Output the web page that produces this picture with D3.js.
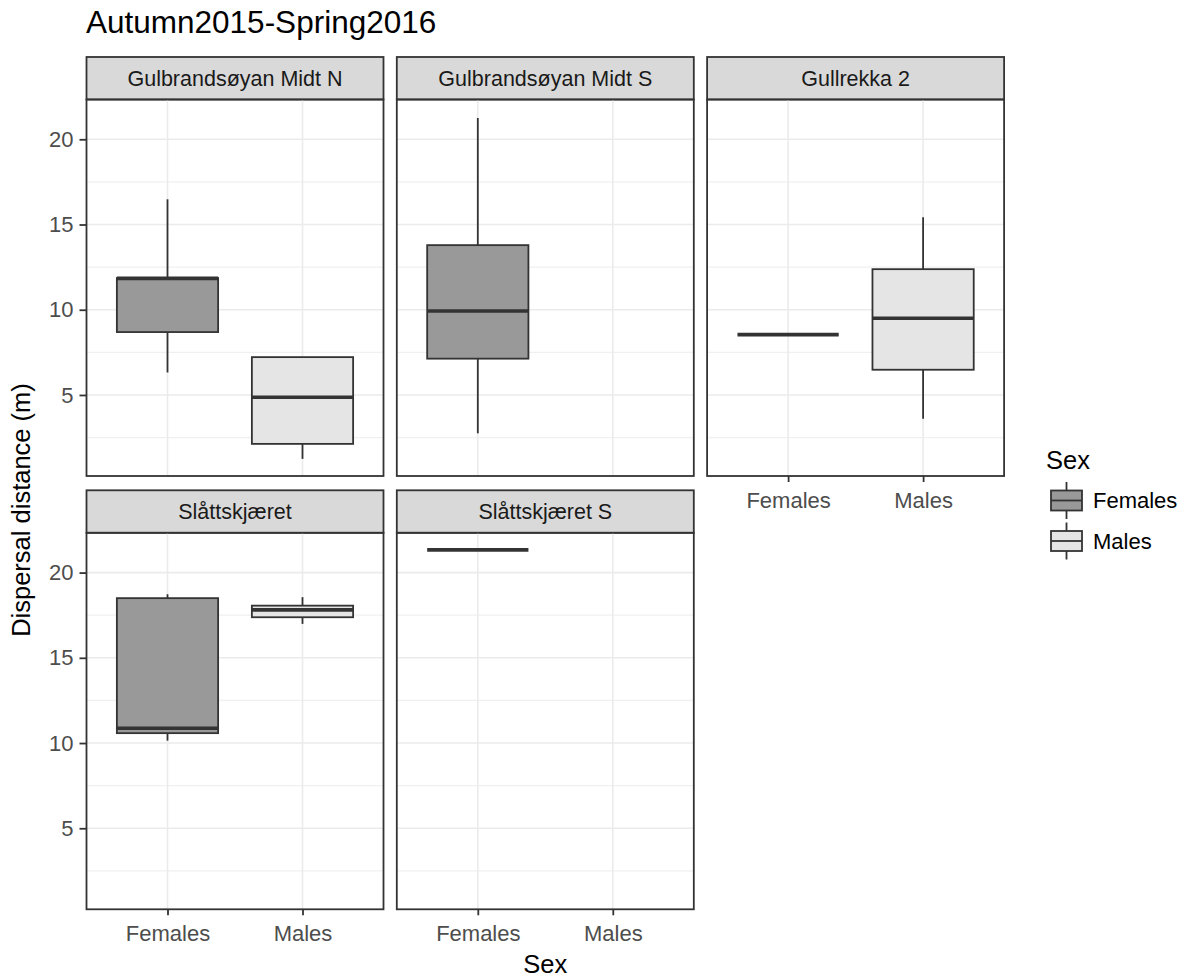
<!DOCTYPE html>
<html>
<head>
<meta charset="utf-8">
<script src="https://cdn.jsdelivr.net/npm/d3@7"></script>
<style>
body { margin: 0; background: #fff; }
svg text { font-family: "Liberation Sans", Arial, sans-serif; }
</style>
</head>
<body>
<div id="chart"></div>
<script>
// Data
var sites           =   [ "Gulbrandsøyan Midt N", "Gulbrandsøyan Midt S", "Gullrekka 2", "Slåttskjæret", "Slåttskjæret S" ];
var sexes           =   [ "Females", "Males" ];
// one value per sex (Females, Males) for each site, null = no data
var whiskerLow      =   [ [ 6.32, 1.25 ], [ 2.75, null ], [ 8.54, 3.6 ], [ 10.14, 16.99 ], [ 21.33, null ] ];
var quartile1       =   [ [ 8.69, 2.13 ], [ 7.13, null ], [ 8.54, 6.48 ], [ 10.58, 17.38 ], [ 21.33, null ] ];
var medians         =   [ [ 11.84, 4.87 ], [ 9.93, null ], [ 8.54, 9.5 ], [ 10.87, 17.81 ], [ 21.33, null ] ];
var quartile3       =   [ [ 11.86, 7.22 ], [ 13.79, null ], [ 8.54, 12.38 ], [ 18.5, 18.06 ], [ 21.33, null ] ];
var whiskerHigh     =   [ [ 16.48, 7.22 ], [ 21.25, null ], [ 8.54, 15.42 ], [ 18.73, 18.56 ], [ 21.33, null ] ];
var yTicks          =   [ 5, 10, 15, 20 ];
var yMinorTicks     =   [ 2.5, 7.5, 12.5, 17.5 ];
var fills           =   [ "#999999", "#e5e5e5" ];

//Width and height
var chart_width     =   1185;
var chart_height    =   978;
var panel_left      =   86.5;
var panel_w         =   297;
var col_step        =   310.3;
var strip_top       =   57;
var strip_h         =   42.5;
var panel_h         =   376.5;
var row_step        =   433.3;
var ncol            =   3;

// Scales
var lo              =   d3.min( whiskerLow.flat() );
var hi              =   d3.max( whiskerHigh.flat() );
var pad             =   ( hi - lo ) * 0.05;
var y               =   d3.scaleLinear()
    .domain( [ lo - pad, hi + pad ] )
    .range( [ panel_h, 0 ] );
var x               =   d3.scalePoint()
    .domain( sexes )
    .range( [ 0, panel_w ] )
    .padding( 0.6 );
var fill            =   d3.scaleOrdinal().domain( sexes ).range( fills );
var box_w           =   x.step() * 0.75;

// Boxes
var boxes           =   [];
sites.forEach( function( site, i ) {
    sexes.forEach( function( sex, j ) {
        if ( medians[i][j] === null ) return;
        boxes.push( { site: site, sex: sex, lo: whiskerLow[i][j], q1: quartile1[i][j],
            med: medians[i][j], q3: quartile3[i][j], hi: whiskerHigh[i][j] } );
    });
});

// SVG
var svg             =   d3.select( "#chart" )
    .append( "svg" )
    .attr( "width", chart_width )
    .attr( "height", chart_height );

var panels          =   svg.selectAll( "g.panel" )
    .data( sites )
    .enter()
    .append( "g" )
    .attr( "class", "panel" )
    .attr( "transform", function( d, i ) {
        var px = panel_left + ( i % ncol ) * col_step;
        var py = strip_top + strip_h + Math.floor( i / ncol ) * row_step;
        return "translate(" + px + "," + py + ")";
    });

// Strips
panels.append( "rect" )
    .attr( "y", -strip_h )
    .attr( "width", panel_w )
    .attr( "height", strip_h )
    .style( "fill", "#d9d9d9" )
    .style( "stroke", "#333333" )
    .style( "stroke-width", 1.8 );

panels.append( "text" )
    .attr( "x", panel_w / 2 )
    .attr( "y", -strip_h / 2 )
    .attr( "dy", "0.36em" )
    .attr( "text-anchor", "middle" )
    .style( "font-size", "21.5px" )
    .style( "fill", "#1a1a1a" )
    .text( function( d ) { return d; } );

// Grid
panels.each( function() {
    var g = d3.select( this );
    g.selectAll( "line.minor" )
        .data( yMinorTicks )
        .enter()
        .append( "line" )
        .attr( "x1", 0 ).attr( "x2", panel_w )
        .attr( "y1", d => y( d ) ).attr( "y2", d => y( d ) )
        .style( "stroke", "#f0f0f0" )
        .style( "stroke-width", 1.3 );
    g.selectAll( "line.major" )
        .data( yTicks )
        .enter()
        .append( "line" )
        .attr( "x1", 0 ).attr( "x2", panel_w )
        .attr( "y1", d => y( d ) ).attr( "y2", d => y( d ) )
        .style( "stroke", "#ebebeb" )
        .style( "stroke-width", 1.6 );
    g.selectAll( "line.xgrid" )
        .data( sexes )
        .enter()
        .append( "line" )
        .attr( "x1", d => x( d ) ).attr( "x2", d => x( d ) )
        .attr( "y1", 0 ).attr( "y2", panel_h )
        .style( "stroke", "#ebebeb" )
        .style( "stroke-width", 1.6 );
});

// Boxplots
panels.each( function( site ) {
    var g = d3.select( this );
    var b = g.selectAll( "g.box" )
        .data( boxes.filter( d => d.site === site ) )
        .enter()
        .append( "g" );

    b.append( "line" )
        .attr( "x1", d => x( d.sex ) ).attr( "x2", d => x( d.sex ) )
        .attr( "y1", d => y( d.q3 ) ).attr( "y2", d => y( d.hi ) )
        .style( "stroke", "#333333" )
        .style( "stroke-width", 1.8 );
    b.append( "line" )
        .attr( "x1", d => x( d.sex ) ).attr( "x2", d => x( d.sex ) )
        .attr( "y1", d => y( d.q1 ) ).attr( "y2", d => y( d.lo ) )
        .style( "stroke", "#333333" )
        .style( "stroke-width", 1.8 );
    b.append( "rect" )
        .attr( "x", d => x( d.sex ) - box_w / 2 )
        .attr( "y", d => y( d.q3 ) )
        .attr( "width", box_w )
        .attr( "height", d => y( d.q1 ) - y( d.q3 ) )
        .style( "fill", d => fill( d.sex ) )
        .style( "stroke", "#333333" )
        .style( "stroke-width", 1.8 );
    b.append( "line" )
        .attr( "x1", d => x( d.sex ) - box_w / 2 ).attr( "x2", d => x( d.sex ) + box_w / 2 )
        .attr( "y1", d => y( d.med ) ).attr( "y2", d => y( d.med ) )
        .style( "stroke", "#333333" )
        .style( "stroke-width", 3.6 );
});

// Panel border
panels.append( "rect" )
    .attr( "width", panel_w )
    .attr( "height", panel_h )
    .style( "fill", "none" )
    .style( "stroke", "#333333" )
    .style( "stroke-width", 1.8 );

// Axes
panels.each( function( site, i ) {
    var g = d3.select( this );
    if ( i % ncol === 0 ) {
        g.append( "g" )
            .attr( "class", "axis" )
            .call( d3.axisLeft( y ).tickValues( yTicks ).tickSize( 7 ).tickPadding( 6 ) );
    }
    if ( i + ncol >= sites.length ) {
        g.append( "g" )
            .attr( "class", "axis" )
            .attr( "transform", "translate(0," + panel_h + ")" )
            .call( d3.axisBottom( x ).tickSize( 6 ).tickPadding( 10 ) );
    }
});

svg.selectAll( ".axis .domain" ).remove();
svg.selectAll( ".axis line" )
    .style( "stroke", "#333333" )
    .style( "stroke-width", 1.8 );
svg.selectAll( ".axis text" )
    .style( "font-size", "22px" )
    .style( "font-family", "'Liberation Sans', Arial, sans-serif" )
    .style( "fill", "#4d4d4d" );

// Titles
svg.append( "text" )
    .attr( "x", 86 )
    .attr( "y", 33 )
    .style( "font-size", "31.5px" )
    .text( "Autumn2015-Spring2016" );

svg.append( "text" )
    .attr( "x", panel_left + ( 2 * col_step + panel_w ) / 2 )
    .attr( "y", 973 )
    .attr( "text-anchor", "middle" )
    .style( "font-size", "25.5px" )
    .text( "Sex" );

svg.append( "text" )
    .attr( "transform", "translate(30,510) rotate(-90)" )
    .attr( "text-anchor", "middle" )
    .style( "font-size", "25.5px" )
    .text( "Dispersal distance (m)" );

// Legend
var keyY            =   d3.scalePoint().domain( sexes ).range( [ 500.5, 541 ] );
var legend          =   svg.append( "g" );

legend.append( "text" )
    .attr( "x", 1046 )
    .attr( "y", 469 )
    .style( "font-size", "25.5px" )
    .text( "Sex" );

var keys            =   legend.selectAll( "g.key" )
    .data( sexes )
    .enter()
    .append( "g" )
    .attr( "transform", d => "translate(1066.5," + keyY( d ) + ")" );

keys.append( "line" )
    .attr( "y1", -18.5 ).attr( "y2", 18.5 )
    .style( "stroke", "#333333" )
    .style( "stroke-width", 1.8 );
keys.append( "rect" )
    .attr( "x", -15.5 ).attr( "y", -10 )
    .attr( "width", 31 ).attr( "height", 20 )
    .style( "fill", d => fill( d ) )
    .style( "stroke", "#333333" )
    .style( "stroke-width", 1.8 );
keys.append( "line" )
    .attr( "x1", -15.5 ).attr( "x2", 15.5 )
    .style( "stroke", "#333333" )
    .style( "stroke-width", 1.8 );
keys.append( "text" )
    .attr( "x", 26.5 )
    .attr( "dy", "0.36em" )
    .style( "font-size", "22px" )
    .text( d => d );
</script>
</body>
</html>
